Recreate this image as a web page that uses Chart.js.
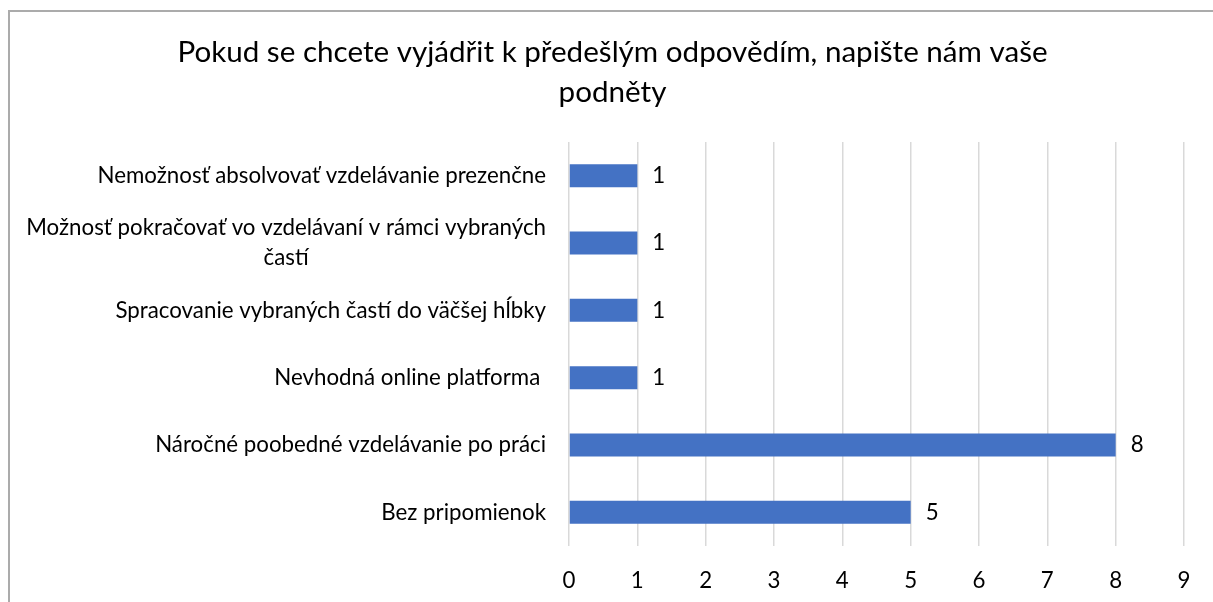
<!DOCTYPE html>
<html>
<head>
<meta charset="utf-8">
<script src="https://cdn.jsdelivr.net/npm/chart.js@4/dist/chart.umd.min.js"></script>
<style>
  html, body { margin: 0; padding: 0; background: #fff; overflow: hidden; }
  #wrap { position: absolute; left: 0; top: 0; width: 1213px; height: 602px; }
  #frame { position: absolute; left: 8px; top: 10px; width: 1300px; height: 700px;
           border-left: 2px solid #ABABAB; border-top: 2px solid #ABABAB; pointer-events: none; }
</style>
</head>
<body>
<div id="wrap"><canvas id="c" width="1213" height="602"></canvas></div>
<div id="frame"></div>
<script>
const titleLines = ["Pokud se chcete vyjádřit k předešlým odpovědím, napište nám vaše", "podněty"];
const categories = [
  ["Nemožnosť absolvovať vzdelávanie prezenčne"],
  ["Možnosť pokračovať vo vzdelávaní v rámci vybraných", "častí"],
  ["Spracovanie vybraných častí do väčšej hĺbky"],
  ["Nevhodná online platforma "],
  ["Náročné poobedné vzdelávanie po práci"],
  ["Bez pripomienok"]
];
const values = [1, 1, 1, 1, 8, 5];
const xMin = 0, xMax = 9, xStep = 1;

const FONT = "Lato, 'Open Sans', sans-serif";
const LABEL_SIZE = 22.3;
const TITLE_SIZE = 29.6;

const yLabelPlugin = {
  id: 'yLabels',
  afterDraw(chart) {
    const ctx = chart.ctx;
    const ys = chart.scales.y;
    const right = chart.chartArea.left - 23;
    const lh = 30;
    ctx.save();
    ctx.font = LABEL_SIZE + "px " + FONT;
    ctx.fillStyle = '#000';
    ctx.textBaseline = 'middle';
    ctx.textAlign = 'center';
    categories.forEach((lines, i) => {
      const cy = ys.getPixelForValue(i);
      const w = Math.max(...lines.map(l => ctx.measureText(l).width));
      const cx = right - w / 2;
      const y0 = cy - (lines.length - 1) * lh / 2;
      lines.forEach((l, k) => ctx.fillText(l, cx, y0 + k * lh));
    });
    ctx.restore();
  }
};

const valueLabelPlugin = {
  id: 'valueLabels',
  afterDatasetsDraw(chart) {
    const ctx = chart.ctx;
    ctx.save();
    ctx.font = LABEL_SIZE + "px " + FONT;
    ctx.fillStyle = '#000';
    ctx.textBaseline = 'middle';
    ctx.textAlign = 'left';
    chart.getDatasetMeta(0).data.forEach((bar, i) => {
      ctx.fillText(String(values[i]), bar.x + 15, bar.y);
    });
    ctx.restore();
  }
};

new Chart(document.getElementById('c'), {
  type: 'bar',
  data: {
    labels: categories.map(l => l.join(' ')),
    datasets: [{
      data: values,
      backgroundColor: '#4472C4',
      borderWidth: 0,
      barPercentage: 0.342,
      categoryPercentage: 1.0
    }]
  },
  options: {
    indexAxis: 'y',
    responsive: false,
    animation: false,
    events: [],
    layout: { padding: { left: 41, right: 29, top: 0, bottom: 0 } },
    plugins: {
      legend: { display: false },
      tooltip: { enabled: false },
      title: {
        display: true,
        text: titleLines,
        color: '#000',
        font: { family: FONT, size: TITLE_SIZE, weight: 'normal', lineHeight: 40 / TITLE_SIZE },
        padding: { top: 32, bottom: 30 }
      }
    },
    scales: {
      x: {
        min: xMin, max: xMax,
        ticks: { stepSize: xStep, color: '#000', padding: 21, font: { family: FONT, size: LABEL_SIZE } },
        grid: { color: '#D9D9D9', lineWidth: 1.5, drawTicks: false },
        border: { display: false },
        afterFit(scale) { scale.height = 56; }
      },
      y: {
        ticks: { display: false },
        grid: { display: false },
        border: { display: false },
        afterFit(scale) { scale.width = 528; }
      }
    }
  },
  plugins: [yLabelPlugin, valueLabelPlugin]
});
</script>
</body>
</html>
